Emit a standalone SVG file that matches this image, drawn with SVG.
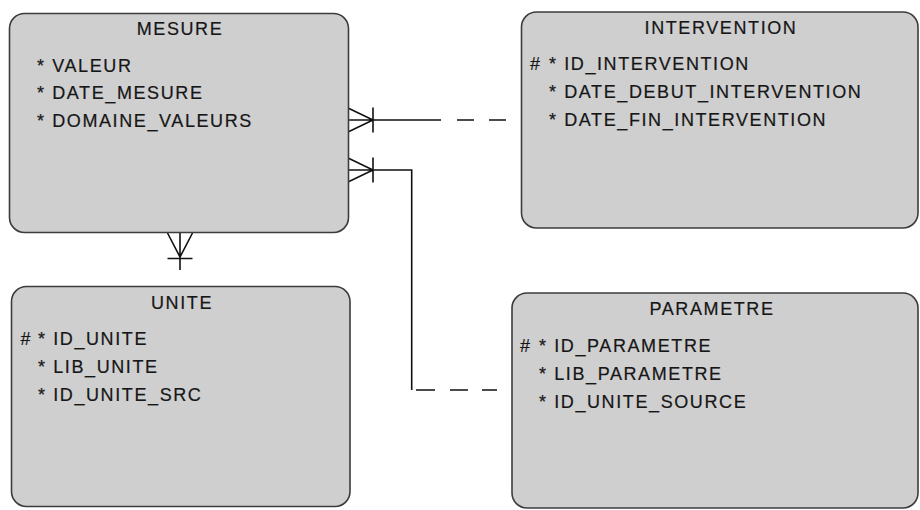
<svg xmlns="http://www.w3.org/2000/svg" width="920" height="510" viewBox="0 0 920 510">
<style>
.box{fill:#cfcfcf;stroke:#3c3c3c;stroke-width:1.6}
.t{font-family:"Liberation Sans",Arial,sans-serif;font-size:18px;letter-spacing:1.6px;fill:#161616;stroke:#161616;stroke-width:0.2}
.ttl{text-anchor:middle}
.ln{fill:none;stroke:#111;stroke-width:1.6}
</style>
<rect width="920" height="510" fill="#ffffff"/>
<g id="connectors">
  <path class="ln" d="M348,108 L373,120 L348,132 M348,120 L441,120 M373,107.5 L373,132.5"/>
  <path class="ln" d="M457,120 L474,120 M489,120 L506,120"/>
  <path class="ln" d="M348,158 L373,170 L348,182 M348,170 L411.7,170 L411.7,390 M373,157.5 L373,182.5"/>
  <path class="ln" d="M416,390 L435,390 M450,390 L468,390 M482,390 L497,390"/>
  <path class="ln" d="M167.5,233 L180,257 L192.5,233 M180,233 L180,270 M167.5,258.5 L192.5,258.5"/>
</g>
<g id="MESURE">
  <rect class="box" x="9.5" y="13.5" width="339" height="219" rx="15"/>
  <text class="t ttl" x="180" y="35">MESURE</text>
  <text class="t" x="37" y="71.5">* VALEUR</text>
  <text class="t" x="37" y="99">* DATE_MESURE</text>
  <text class="t" x="37" y="126.5">* DOMAINE_VALEURS</text>
</g>
<g id="INTERVENTION">
  <rect class="box" x="521.5" y="12" width="396.5" height="216" rx="15"/>
  <text class="t ttl" x="721" y="33.5">INTERVENTION</text>
  <text class="t" x="530" y="69.5">#</text>
  <text class="t" x="549" y="69.5">* ID_INTERVENTION</text>
  <text class="t" x="549" y="97.5">* DATE_DEBUT_INTERVENTION</text>
  <text class="t" x="549" y="125.5">* DATE_FIN_INTERVENTION</text>
</g>
<g id="UNITE">
  <rect class="box" x="11.5" y="286.5" width="338.5" height="220" rx="15"/>
  <text class="t ttl" x="182" y="308.5">UNITE</text>
  <text class="t" x="20.5" y="345">#</text>
  <text class="t" x="38" y="345">* ID_UNITE</text>
  <text class="t" x="38" y="373">* LIB_UNITE</text>
  <text class="t" x="38" y="400.5">* ID_UNITE_SRC</text>
</g>
<g id="PARAMETRE">
  <rect class="box" x="512" y="293" width="406" height="215" rx="15"/>
  <text class="t ttl" x="712" y="314.5">PARAMETRE</text>
  <text class="t" x="520" y="351.5">#</text>
  <text class="t" x="539" y="351.5">* ID_PARAMETRE</text>
  <text class="t" x="539" y="379.5">* LIB_PARAMETRE</text>
  <text class="t" x="539" y="407.5">* ID_UNITE_SOURCE</text>
</g>
</svg>
